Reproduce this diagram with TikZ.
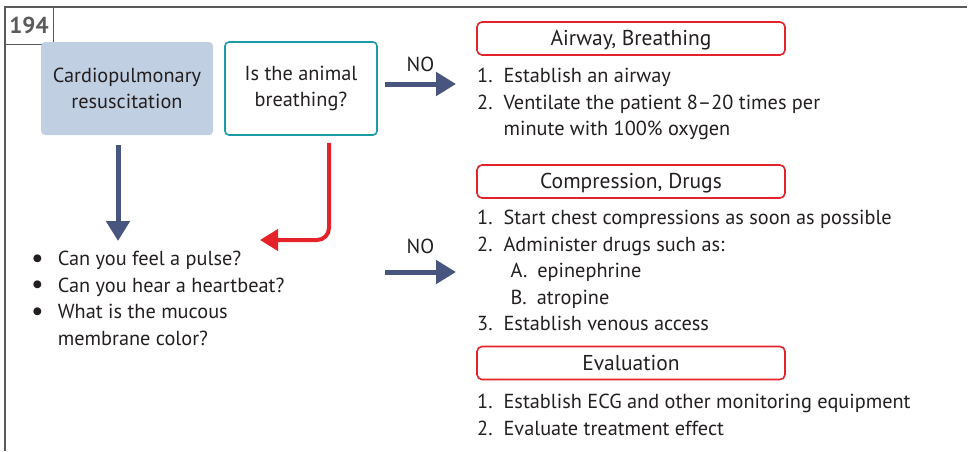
\documentclass[tikz,border=0pt]{standalone}
\usepackage{fontspec}
\setmainfont{PT Sans}
\usetikzlibrary{arrows.meta,calc,positioning}
\definecolor{Frame}{HTML}{5A5A5A}
\definecolor{Navy}{HTML}{48567F}
\definecolor{Alarm}{HTML}{E52229}
\definecolor{Lagoon}{HTML}{1B9AA8}
\definecolor{Haze}{HTML}{C1CFE2}
\definecolor{Txt}{HTML}{231F20}
\newcommand{\dotmark}{{\fontsize{28}{20}\selectfont\raisebox{-1.5pt}{\textbullet}}}
\tikzset{
  txt/.style={font=\fontsize{20.3}{26.5}\selectfont,text=Txt,inner sep=0pt},
  headbox/.style={draw=Alarm,line width=1.6pt,rounded corners=5pt,minimum width=308pt,minimum height=33pt,txt,
    font=\fontsize{21.5}{24}\selectfont},
  flow/.style={Navy,line width=5pt,-{Triangle[length=20pt,width=23pt]}},
  back/.style={Alarm,line width=4pt,rounded corners=12pt,-{Triangle[length=18pt,width=21pt]}},
}
\begin{document}
\begin{tikzpicture}[x=1pt,y=-1pt]
    \useasboundingbox (0,0) rectangle (971,451);
    \draw[Frame,line width=1.4pt] (5,451)--(5,7)--(967,7);
    \node[draw=Frame,fill=white,line width=1pt,minimum width=48pt,minimum height=37pt,inner sep=0pt,
      font=\fontsize{23}{24}\selectfont\bfseries,text=Frame] (num) at (29,25.5) {194};
    % start and question
    \node[fill=Haze,rounded corners=4pt,minimum width=172pt,minimum height=93pt,txt,align=center] (cpr)
      at (127,88.5) {Cardiopulmonary\\resuscitation};
    \node[draw=Lagoon,line width=1.6pt,rounded corners=4pt,minimum width=152pt,minimum height=93pt,txt,align=center] (ask)
      at (301,88.5) {Is the animal\\breathing?};
    % headings on the right
    \node[headbox,text depth=1pt] (ab) at (631,38.5) {Airway, Breathing};
    \node[headbox,text depth=1pt] (cd) at (631,181.5) {Compression, Drugs};
    \node[headbox,text depth=1pt] (ev) at (631,363) {Evaluation};
    % lists
    \node[txt,anchor=north west] (abl) at (477,64) {\begin{tabular}{@{}l@{\hspace{11pt}}l@{}}
      1. & Establish an airway\\
      2. & Ventilate the patient 8--20 times per\\
         & minute with 100\% oxygen
    \end{tabular}};
    \node[txt,anchor=north west] (cdl) at (477,206) {\begin{tabular}{@{}l@{\hspace{11pt}}l@{}}
      1. & Start chest compressions as soon as possible\\
      2. & Administer drugs such as:\\
         & \hspace{7pt}A.\hspace{10pt}epinephrine\\
         & \hspace{7pt}B.\hspace{10pt}atropine\\
      3. & Establish venous access
    \end{tabular}};
    \node[txt,anchor=north west] (evl) at (477,390) {\begin{tabular}{@{}l@{\hspace{11pt}}l@{}}
      1. & Establish ECG and other monitoring equipment\\
      2. & Evaluate treatment effect
    \end{tabular}};
    \node[txt,anchor=north west] (chk) at (31,247) {\begin{tabular}{@{}l@{\hspace{14pt}}l@{}}
      \dotmark & Can you feel a pulse?\\
      \dotmark & Can you hear a heartbeat?\\
      \dotmark & What is the mucous\\
               & membrane color?
    \end{tabular}};
    % connectors
    \coordinate (t1) at (385,84);
    \coordinate (h1) at (456,84);
    \coordinate (t2) at (385,272);
    \coordinate (h2) at (456,272);
    \coordinate (dn) at (118,241);
    \coordinate (rt) at (260,240);
    \draw[flow] (t1) -- node[txt,above=10pt] (no1) {NO} (h1);
    \draw[flow] (t2) -- node[txt,above=16pt] (no2) {NO} (h2);
    \draw[flow] (cpr.south -| dn) ++(0,10) -- (dn);
    \draw[back] ($(ask.south)+(28,7)$) |- (rt);
\end{tikzpicture}
\end{document}
